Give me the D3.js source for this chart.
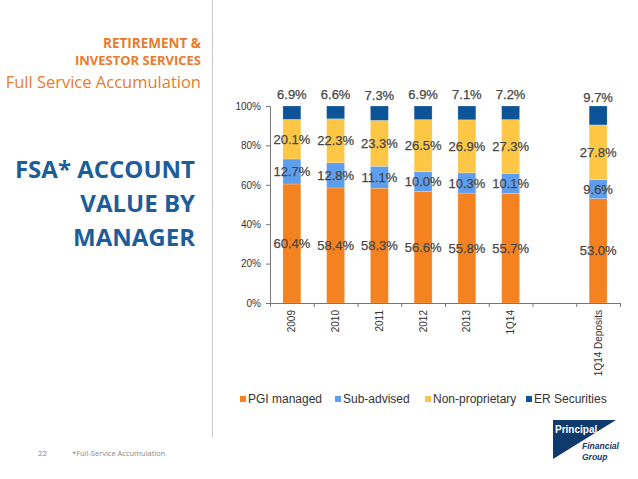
<!DOCTYPE html>
<html>
<head>
<meta charset="utf-8">
<script src="https://cdn.jsdelivr.net/npm/d3@7"></script>
<style>
  html, body { margin: 0; padding: 0; background: #fff; }
  svg { display: block; }
</style>
</head>
<body>
<div id="chart"></div>
<script>
// === FSA account value by manager (stacked %) ===

const categories = ['2009', '2010', '2011', '2012', '2013', '1Q14', '', '1Q14 Deposits'];
const pgiManaged = [60.4, 58.4, 58.3, 56.6, 55.8, 55.7, null, 53.0];
const subAdvised = [12.7, 12.8, 11.1, 10.0, 10.3, 10.1, null, 9.6];
const nonProprietary = [20.1, 22.3, 23.3, 26.5, 26.9, 27.3, null, 27.8];
const erSecurities = [6.9, 6.6, 7.3, 6.9, 7.1, 7.2, null, 9.7];
const yTicks = [0, 20, 40, 60, 80, 100];

const seriesNames = ['PGI managed', 'Sub-advised', 'Non-proprietary', 'ER Securities'];
const seriesColors = ['#F58220', '#5E9EEE', '#FDC745', '#0C5497'];

const W = 638, H = 479;
const PLOT = { left: 270, right: 620, top: 106, bottom: 303 };

const svg = d3.select('#chart').append('svg')
  .attr('width', W).attr('height', H)
  .style('font-family', '"Liberation Sans", Arial, sans-serif');

// Left-hand titles
const ORANGE = '#E97B2C';
const NAVY_TITLE = '#1C5D9A';
const heading = svg.append('g').style('font-family', '"Open Sans", sans-serif');
heading.append('text').attr('x', 201).attr('y', 48).attr('text-anchor', 'end')
  .attr('fill', ORANGE).attr('font-size', '13.5px').attr('font-weight', 700)
  .text('RETIREMENT &');
heading.append('text').attr('x', 201).attr('y', 65).attr('text-anchor', 'end')
  .attr('fill', ORANGE).attr('font-size', '13px').attr('font-weight', 700)
  .text('INVESTOR SERVICES');
heading.append('text').attr('x', 201).attr('y', 88).attr('text-anchor', 'end')
  .attr('fill', ORANGE).attr('font-size', '16.5px')
  .text('Full Service Accumulation');

['FSA* ACCOUNT', 'VALUE BY', 'MANAGER'].forEach((line, i) => {
  heading.append('text')
    .attr('x', 195).attr('y', 178 + i * 34)
    .attr('text-anchor', 'end')
    .attr('fill', NAVY_TITLE).attr('font-size', '24px').attr('font-weight', 700)
    .text(line);
});

// Divider
svg.append('line')
  .attr('x1', 212.5).attr('x2', 212.5).attr('y1', 0).attr('y2', 437)
  .attr('stroke', '#c8c8c8').attr('stroke-width', 1);

// Scales
const x = d3.scaleBand().domain(categories).range([PLOT.left, PLOT.right]);
const xEdges = d3.scaleLinear().domain([0, categories.length]).range([PLOT.left, PLOT.right]);
const y = d3.scaleLinear().domain([0, 100]).range([PLOT.bottom, PLOT.top]).clamp(true);
const barWidth = x.bandwidth() * 0.41;

// Stack data
const rows = categories.map((c, i) => ({
  cat: c,
  s0: pgiManaged[i], s1: subAdvised[i], s2: nonProprietary[i], s3: erSecurities[i]
})).filter(r => r.s0 !== null);
const stack = d3.stack().keys(['s0', 's1', 's2', 's3'])(rows);

// Bars
const barGroup = svg.append('g');
stack.forEach((layer, si) => {
  barGroup.selectAll(null).data(layer).enter().append('rect')
    .attr('x', d => x(d.data.cat) + x.bandwidth() / 2 - barWidth / 2)
    .attr('y', d => y(d[1]))
    .attr('width', barWidth)
    .attr('height', d => y(d[0]) - y(d[1]))
    .attr('fill', seriesColors[si])
    .attr('stroke', 'rgba(255,255,255,0.35)')
    .attr('stroke-width', 0.6);
});

// Axes
const yAxis = svg.append('g')
  .attr('transform', `translate(${PLOT.left},0)`)
  .call(d3.axisLeft(y).tickValues(yTicks).tickFormat(d => d + '%').tickSize(4).tickPadding(5));
yAxis.selectAll('text').attr('fill', '#333').attr('font-size', '10px')
  .style('font-family', '"Liberation Sans", Arial, sans-serif');
yAxis.selectAll('.domain, .tick line').attr('stroke', '#777');

const xTicks = svg.append('g')
  .attr('transform', `translate(0,${PLOT.bottom})`)
  .call(d3.axisBottom(xEdges).ticks(categories.length).tickFormat('').tickSize(4).tickSizeOuter(0));
xTicks.selectAll('.domain, .tick line').attr('stroke', '#777');

const xLabels = svg.append('g')
  .attr('transform', `translate(0,${PLOT.bottom})`)
  .call(d3.axisBottom(x).tickSize(0).tickPadding(0));
xLabels.select('.domain').remove();
xLabels.selectAll('text')
  .attr('transform', 'rotate(-90)')
  .attr('x', -7).attr('y', 0).attr('dy', '0.36em')
  .style('text-anchor', 'end')
  .attr('fill', '#333').attr('font-size', '10px')
  .style('font-family', '"Liberation Sans", Arial, sans-serif');

// Value labels
const labelGroup = svg.append('g');
stack.forEach((layer, si) => {
  labelGroup.selectAll(null).data(layer).enter().append('text')
    .attr('x', d => x(d.data.cat) + x.bandwidth() / 2)
    .attr('y', d => y((d[0] + d[1]) / 2) - (si === 3 ? 18 : 0))
    .attr('dy', '0.36em')
    .attr('text-anchor', 'middle')
    .attr('fill', '#474747')
    .attr('stroke', '#474747').attr('stroke-width', 0.25)
    .attr('font-size', '13px')
    .text(d => (d[1] - d[0]).toFixed(1) + '%');
});

// Legend
const legendX = [240, 335, 425, 526];
const legend = svg.append('g').attr('transform', 'translate(0,399)');
seriesNames.forEach((name, i) => {
  legend.append('rect')
    .attr('x', legendX[i]).attr('y', -3)
    .attr('width', 6).attr('height', 6)
    .attr('fill', seriesColors[i]);
  legend.append('text')
    .attr('x', legendX[i] + 8).attr('y', 0).attr('dy', '0.36em')
    .attr('fill', '#333').attr('font-size', '12px')
    .text(name);
});

// Footer
svg.append('text').attr('x', 38).attr('y', 456)
  .attr('fill', '#888').attr('font-size', '8px')
  .style('font-family', '"Open Sans", sans-serif')
  .text('22');
svg.append('text').attr('x', 72).attr('y', 456)
  .attr('fill', '#888').attr('font-size', '7.5px')
  .style('font-family', '"Open Sans", sans-serif')
  .text('*Full-Service Accumulation');

// Logo
const logo = svg.append('g');
logo.append('polygon')
  .attr('points', '553,420 616,420 553,459')
  .attr('fill', '#0E3A6D');
logo.append('text').attr('x', 555).attr('y', 433)
  .attr('fill', '#fff').attr('font-size', '10px').attr('font-weight', 700)
  .text('Principal');
logo.append('text').attr('x', 582).attr('y', 449)
  .attr('fill', '#0E3A6D').attr('font-size', '8.5px').attr('font-weight', 700)
  .attr('font-style', 'italic')
  .text('Financial');
logo.append('text').attr('x', 582).attr('y', 460)
  .attr('fill', '#0E3A6D').attr('font-size', '8.5px').attr('font-weight', 700)
  .attr('font-style', 'italic')
  .text('Group');
</script>
</body>
</html>
